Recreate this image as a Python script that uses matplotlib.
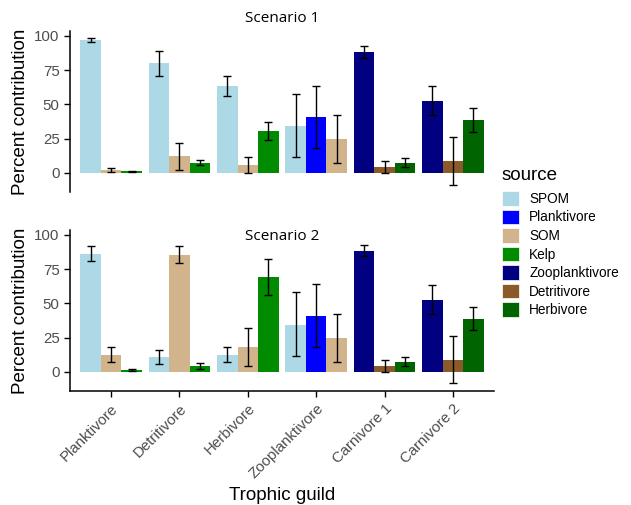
import matplotlib
matplotlib.use("Agg")
import matplotlib.pyplot as plt
from matplotlib.patches import Patch
import numpy as np

plt.rcParams['font.family'] = ['Liberation Sans', 'DejaVu Sans']

# guilds on the x axis
guilds = ["Planktivore", "Detritivore", "Herbivore", "Zooplanktivore", "Carnivore 1", "Carnivore 2"]

# the three sources shown for each guild (dodged left to right)
guild_sources = [
    ["SPOM", "SOM", "Kelp"],
    ["SPOM", "SOM", "Kelp"],
    ["SPOM", "SOM", "Kelp"],
    ["SPOM", "Planktivore", "SOM"],
    ["Zooplanktivore", "Detritivore", "Herbivore"],
    ["Zooplanktivore", "Detritivore", "Herbivore"],
]

# legend order and colours
sources = ["SPOM", "Planktivore", "SOM", "Kelp", "Zooplanktivore", "Detritivore", "Herbivore"]
source_colors = {
    "SPOM": "#ADD8E6",
    "Planktivore": "#0000FF",
    "SOM": "#D2B48C",
    "Kelp": "#008B00",
    "Zooplanktivore": "#000080",
    "Detritivore": "#8B5A2B",
    "Herbivore": "#006400",
}

# Scenario 1: mean, lower, upper (per guild, per dodged source)
s1_mean = [[96.6, 2.0, 1.0], [80.0, 12.2, 7.5], [63.3, 5.6, 30.4],
           [34.3, 40.6, 24.6], [88.1, 3.9, 7.3], [52.6, 8.5, 38.7]]
s1_low = [[95.2, 0.5, 0.5], [71.0, 2.0, 6.0], [55.7, -0.2, 24.0],
          [11.2, 18.0, 7.0], [83.9, -0.2, 4.4], [42.1, -8.8, 29.9]]
s1_high = [[98.5, 3.4, 1.5], [88.8, 21.7, 9.5], [71.0, 11.2, 37.2],
           [57.4, 63.7, 42.1], [92.5, 8.3, 10.5], [63.0, 26.0, 47.4]]

# Scenario 2
s2_mean = [[85.9, 12.2, 1.5], [10.5, 85.4, 4.1], [12.4, 18.2, 69.3],
           [34.3, 40.9, 24.8], [88.3, 4.1, 7.5], [52.6, 8.5, 38.7]]
s2_low = [[80.8, 6.8, 0.8], [5.4, 79.3, 2.2], [6.8, 4.4, 55.7],
          [11.4, 18.2, 7.3], [84.2, -0.2, 4.6], [42.1, -8.5, 30.2]]
s2_high = [[91.5, 18.0, 2.2], [15.8, 91.5, 6.1], [18.2, 32.1, 82.7],
           [57.9, 64.0, 42.3], [92.7, 8.3, 10.9], [63.3, 25.8, 47.4]]

scenarios = [("Scenario 1", s1_mean, s1_low, s1_high),
             ("Scenario 2", s2_mean, s2_low, s2_high)]

W, H = 631, 505
fig = plt.figure(figsize=(W / 100, H / 100), dpi=100)

left, right = 70, 494
panels = [(31, 192), (230, 391)]   # top / bottom pixel rows of each panel
title_y = [19, 236]
tick_grey = "#4D4D4D"
bar_w = 0.3

for i, (name, mean, low, high) in enumerate(scenarios):
    top, bot = panels[i]
    ax = fig.add_axes([left / W, 1 - bot / H, (right - left) / W, (bot - top) / H])
    for g in range(len(guilds)):
        for k, src in enumerate(guild_sources[g]):
            x = g + (k - 1) * bar_w
            m = mean[g][k]
            ax.bar(x, m, width=bar_w, color=source_colors[src], linewidth=0)
            ax.errorbar(x, m, yerr=[[m - low[g][k]], [high[g][k] - m]],
                        fmt="none", ecolor="black", elinewidth=1.0,
                        capsize=3, capthick=1.0)
    ax.set_xlim(-0.6, 5.6)
    ax.set_ylim(-14, 103.5)
    ax.set_yticks([0, 25, 50, 75, 100])
    ax.tick_params(axis="y", labelsize=10.8, labelcolor=tick_grey, length=4, width=1)
    ax.set_ylabel("Percent contribution", fontsize=13.5, labelpad=4)
    for s in ["top", "right"]:
        ax.spines[s].set_visible(False)
    ax.spines["left"].set_linewidth(1.1)
    if i == 0:
        ax.spines["bottom"].set_visible(False)
        ax.set_xticks([])
    else:
        ax.spines["bottom"].set_linewidth(1.1)
        ax.set_xticks(range(len(guilds)))
        ax.set_xticklabels(guilds, rotation=45, ha="right", rotation_mode="anchor")
        ax.tick_params(axis="x", labelsize=10.8, labelcolor=tick_grey, length=4, width=1)
        ax.set_xlabel("Trophic guild", fontsize=13.5, labelpad=4)
    fig.text((left + right) / 2 / W, 1 - title_y[i] / H, name,
             ha="center", va="center", fontsize=11, family=["Open Sans", "DejaVu Sans"])

# legend: title drawn separately so the gap to the keys matches
fig.text(502 / W, 1 - 176 / H, "source", ha="left", va="center", fontsize=13.5)
handles = [Patch(facecolor=source_colors[s], edgecolor="white", linewidth=0.5, label=s)
           for s in sources]
leg = fig.legend(handles=handles, loc="upper left",
                 bbox_to_anchor=(502 / W, 1 - 191 / H), frameon=False,
                 fontsize=9.8, handlelength=1.25,
                 handleheight=1.3, labelspacing=0.26, handletextpad=0.75,
                 borderpad=0, borderaxespad=0)

fig.savefig("out.png", dpi=100)
